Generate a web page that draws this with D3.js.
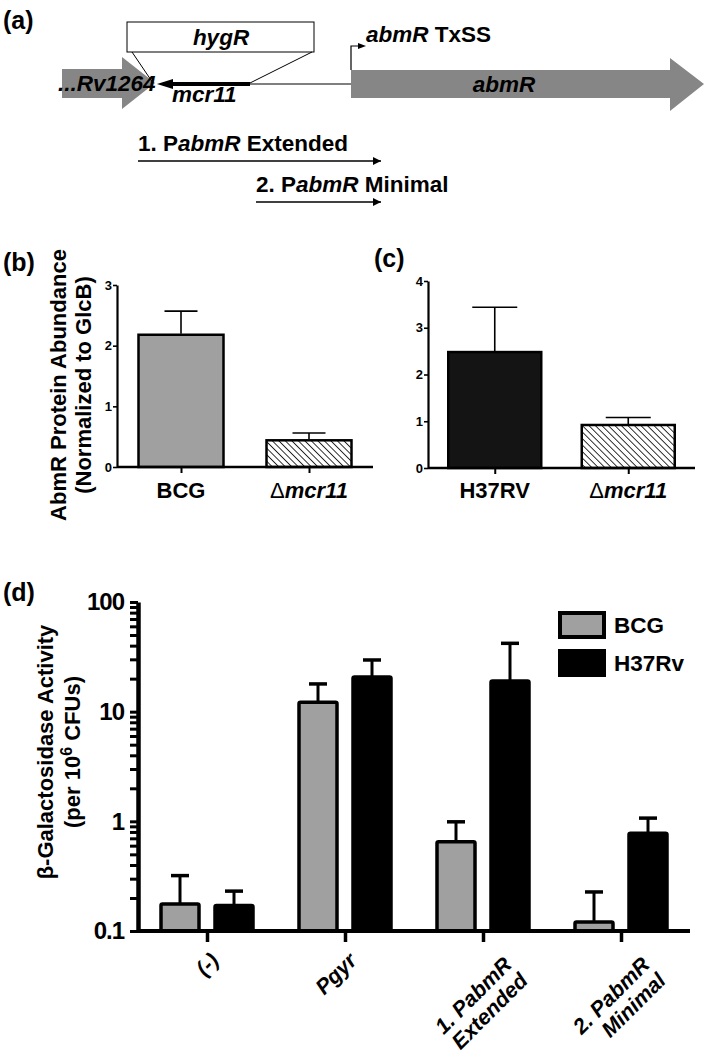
<!DOCTYPE html>
<html>
<head>
<meta charset="utf-8">
<script src="https://cdn.jsdelivr.net/npm/d3@7"></script>
<style>
  body { margin: 0; background: #fff; }
  svg { display: block; }
  text { font-family: "Liberation Sans", Arial, sans-serif; font-weight: bold; fill: #000; }
</style>
</head>
<body>
<svg id="fig" width="709" height="1058"></svg>
<script>
// panel (b) - AbmR protein in BCG
var bCats = ["BCG", "Δmcr11"];
var bVals = [2.18, 0.44];
var bErr = [0.39, 0.12];
var bTicks = [0, 1, 2, 3];

// panel (c) - AbmR protein in H37Rv
var cCats = ["H37RV", "Δmcr11"];
var cVals = [2.48, 0.92];
var cErr = [0.96, 0.16];
var cTicks = [0, 1, 2, 3, 4];

// panel (d) - beta-galactosidase, log scale
var dGroups = ["(-)", "Pgyr", "1. PabmR\nExtended", "2. PabmR\nMinimal"];
var dSeries = ["BCG", "H37Rv"];
var dBCG = [0.176, 12.2, 0.65, 0.121];
var dBCGerr = [0.144, 5.7, 0.34, 0.106];
var dH37 = [0.171, 20.7, 19, 0.78];
var dH37err = [0.06, 8.9, 23, 0.29];
var dTicks = [0.1, 1, 10, 100];

var svg = d3.select("#fig");
var defs = svg.append("defs");

// hatch for the mutant bars
var hatch = defs.append("pattern")
    .attr("id", "hatch")
    .attr("patternUnits", "userSpaceOnUse")
    .attr("width", 4.6).attr("height", 4.6)
    .attr("patternTransform", "rotate(-45)");
hatch.append("rect").attr("width", 4.6).attr("height", 4.6).attr("fill", "#fff");
hatch.append("line").attr("x1", 0).attr("y1", 0).attr("x2", 0).attr("y2", 4.6)
    .attr("stroke", "#000").attr("stroke-width", 1.6);

defs.append("marker")
    .attr("id", "arr")
    .attr("viewBox", "0 0 10 10")
    .attr("refX", 10).attr("refY", 5)
    .attr("markerWidth", 11).attr("markerHeight", 8)
    .attr("markerUnits", "userSpaceOnUse")
    .attr("orient", "auto")
    .append("path").attr("d", "M0,0L10,5L0,10Z").attr("fill", "#000");

// write a string, setting gene names in italics
function rich(sel, str) {
    var parts = str.split(/(abmR|mcr11|hygR|Rv1264)/);
    parts.forEach(function (p) {
        if (!p) return;
        var t = sel.append("tspan").text(p);
        if (/^(abmR|mcr11|hygR|Rv1264)$/.test(p)) t.attr("font-style", "italic");
    });
    return sel;
}

function panelLabel(txt, x, y) {
    svg.append("text").attr("x", x).attr("y", y).attr("font-size", 25).text(txt);
}

// ---------------- (a) gene map ----------------
panelLabel("(a)", 3, 29);
var ga = svg.append("g");
var grey = "#868686";
var fa = 22.5;

ga.append("polygon")
    .attr("points", "62,69 122,69 122,57 155,83 122,109 122,98 62,98")
    .attr("fill", grey);
ga.append("polygon")
    .attr("points", "351,70 670,70 670,58 704,84 670,111 670,98 351,98")
    .attr("fill", grey);

ga.append("rect").attr("x", 127).attr("y", 22).attr("width", 187).attr("height", 30)
    .attr("fill", "#fff").attr("stroke", "#000").attr("stroke-width", 1);
ga.append("line").attr("x1", 132).attr("y1", 52).attr("x2", 153).attr("y2", 83)
    .attr("stroke", "#000").attr("stroke-width", 1);
ga.append("line").attr("x1", 312).attr("y1", 52).attr("x2", 250).attr("y2", 83)
    .attr("stroke", "#000").attr("stroke-width", 1);

ga.append("line").attr("x1", 250).attr("y1", 84).attr("x2", 351).attr("y2", 84)
    .attr("stroke", "#000").attr("stroke-width", 1);
ga.append("line").attr("x1", 250).attr("y1", 84).attr("x2", 170).attr("y2", 84)
    .attr("stroke", "#000").attr("stroke-width", 4);
ga.append("polygon").attr("points", "157,84 173,79 173,89").attr("fill", "#000");

ga.append("path").attr("d", "M351,70V46H358").attr("fill", "none")
    .attr("stroke", "#000").attr("stroke-width", 1.2);
ga.append("polygon").attr("points", "358,43 366,46 358,49").attr("fill", "#000");

rich(ga.append("text").attr("x", 221).attr("y", 45).attr("text-anchor", "middle").attr("font-size", fa), "hygR");
ga.append("text").attr("x", 58).attr("y", 91).attr("font-size", fa).attr("font-style", "italic").text("...Rv1264");
rich(ga.append("text").attr("x", 172).attr("y", 102).attr("font-size", fa), "mcr11");
rich(ga.append("text").attr("x", 504).attr("y", 92).attr("text-anchor", "middle").attr("font-size", fa), "abmR");
rich(ga.append("text").attr("x", 366).attr("y", 42).attr("font-size", fa), "abmR TxSS");

rich(ga.append("text").attr("x", 138).attr("y", 151).attr("font-size", fa), "1. PabmR Extended");
ga.append("line").attr("x1", 138).attr("y1", 161).attr("x2", 381).attr("y2", 161)
    .attr("stroke", "#000").attr("stroke-width", 1.6).attr("marker-end", "url(#arr)");
rich(ga.append("text").attr("x", 256).attr("y", 192).attr("font-size", fa), "2. PabmR Minimal");
ga.append("line").attr("x1", 256).attr("y1", 202).attr("x2", 381).attr("y2", 202)
    .attr("stroke", "#000").attr("stroke-width", 1.6).attr("marker-end", "url(#arr)");

// ---------------- (b) and (c) bar panels ----------------
function barPanel(o) {
    var g = svg.append("g");
    var x = d3.scalePoint().domain(o.cats).range([o.left, o.right]).padding(0.5);
    var y = d3.scaleLinear().domain([0, d3.max(o.ticks)]).range([o.bottom, o.top]);

    g.selectAll(".bar").data(o.vals).enter().append("rect")
        .attr("x", function (d, i) { return x(o.cats[i]) - o.barW / 2; })
        .attr("y", function (d) { return y(d); })
        .attr("width", o.barW)
        .attr("height", function (d) { return y(0) - y(d); })
        .attr("fill", function (d, i) { return o.fills[i]; })
        .attr("stroke", "#000").attr("stroke-width", 2.5);

    var eb = g.selectAll(".err").data(o.vals).enter().append("g");
    eb.append("line")
        .attr("x1", function (d, i) { return x(o.cats[i]); })
        .attr("x2", function (d, i) { return x(o.cats[i]); })
        .attr("y1", function (d) { return y(d) - 1; })
        .attr("y2", function (d, i) { return y(d + o.errs[i]); })
        .attr("stroke", "#000").attr("stroke-width", 1.6);
    eb.append("line")
        .attr("x1", function (d, i) { return x(o.cats[i]) - o.capW / 2; })
        .attr("x2", function (d, i) { return x(o.cats[i]) + o.capW / 2; })
        .attr("y1", function (d, i) { return y(d + o.errs[i]); })
        .attr("y2", function (d, i) { return y(d + o.errs[i]); })
        .attr("stroke", "#000").attr("stroke-width", 1.6);

    var ya = g.append("g").attr("transform", "translate(" + o.left + ",0)")
        .call(d3.axisLeft(y).tickValues(o.ticks).tickFormat(d3.format("d"))
            .tickSize(4).tickSizeOuter(0).tickPadding(1));
    ya.select(".domain").attr("stroke-width", 2.2);
    ya.selectAll(".tick line").attr("stroke-width", 1.6);
    ya.selectAll(".tick text").attr("font-size", 13).attr("font-family", "Liberation Sans, Arial, sans-serif").attr("font-weight", "bold");

    var xa = g.append("g").attr("transform", "translate(0," + o.bottom + ")")
        .call(d3.axisBottom(x).tickSize(6).tickSizeOuter(0).tickFormat(""));
    xa.select(".domain").attr("stroke-width", 2.5)
        .attr("d", "M" + o.left + ",0H" + o.axisEnd);
    xa.selectAll(".tick line").attr("stroke-width", 2);

    o.cats.forEach(function (c) {
        var t = g.append("text").attr("x", x(c)).attr("y", 498)
            .attr("text-anchor", "middle").attr("font-size", 22);
        if (c.charAt(0) == "Δ") {
            t.append("tspan").attr("font-weight", "normal").text("Δ");
            t.append("tspan").attr("font-style", "italic").text(c.slice(1));
        } else {
            t.text(c);
        }
    });
    return g;
}

panelLabel("(b)", 3, 271);
barPanel({
    cats: bCats, vals: bVals, errs: bErr, ticks: bTicks,
    left: 117, right: 373, axisEnd: 373, top: 285, bottom: 467,
    barW: 85, capW: 33, fills: ["#a0a0a0", "url(#hatch)"]
});
var yl = svg.append("text").attr("transform", "translate(66,385) rotate(-90)")
    .attr("text-anchor", "middle").attr("font-size", 22);
yl.append("tspan").attr("x", 0).attr("dy", 0).text("AbmR Protein Abundance");
yl.append("tspan").attr("x", 0).attr("dy", 25).text("(Normalized to GlcB)");

panelLabel("(c)", 374, 267);
barPanel({
    cats: cCats, vals: cVals, errs: cErr, ticks: cTicks,
    left: 428, right: 695, axisEnd: 695, top: 281, bottom: 468,
    barW: 93, capW: 45, fills: ["#141414", "url(#hatch)"]
});

// ---------------- (d) log-scale grouped bars ----------------
panelLabel("(d)", 3, 601);
var gd = svg.append("g");
var dLeft = 138, dRight = 690, dTop = 602, dBottom = 931;
var x0 = d3.scalePoint().domain(dGroups).range([dLeft, dRight]).padding(0.5);
var x1 = d3.scalePoint().domain(dSeries).range([-27, 27]);
var yd = d3.scaleLog().domain([0.1, 100]).range([dBottom, dTop]);
var dColor = { "BCG": "#a0a0a0", "H37Rv": "#000" };
var dBarW = 38;

var rows = [];
dGroups.forEach(function (g, i) {
    rows.push({ grp: g, ser: "BCG", v: dBCG[i], e: dBCGerr[i] });
    rows.push({ grp: g, ser: "H37Rv", v: dH37[i], e: dH37err[i] });
});

gd.selectAll(".bar").data(rows).enter().append("rect")
    .attr("x", function (d) { return x0(d.grp) + x1(d.ser) - dBarW / 2; })
    .attr("y", function (d) { return yd(d.v); })
    .attr("width", dBarW)
    .attr("height", function (d) { return yd(0.1) - yd(d.v); })
    .attr("rx", 1.5)
    .attr("fill", function (d) { return dColor[d.ser]; })
    .attr("stroke", "#000").attr("stroke-width", 3.5);

var de = gd.selectAll(".err").data(rows).enter().append("g");
de.append("line")
    .attr("x1", function (d) { return x0(d.grp) + x1(d.ser); })
    .attr("x2", function (d) { return x0(d.grp) + x1(d.ser); })
    .attr("y1", function (d) { return yd(d.v) - 1; })
    .attr("y2", function (d) { return yd(d.v + d.e); })
    .attr("stroke", "#000").attr("stroke-width", 3);
de.append("line")
    .attr("x1", function (d) { return x0(d.grp) + x1(d.ser) - 9; })
    .attr("x2", function (d) { return x0(d.grp) + x1(d.ser) + 9; })
    .attr("y1", function (d) { return yd(d.v + d.e); })
    .attr("y2", function (d) { return yd(d.v + d.e); })
    .attr("stroke", "#000").attr("stroke-width", 3.5);

// minor ticks 2..9 of every decade
var minor = [];
[0.1, 1, 10].forEach(function (dec) {
    for (var k = 1; k <= 9; k++) minor.push(k * dec);
});
minor.push(100);
var yda = gd.append("g").attr("transform", "translate(" + dLeft + ",0)")
    .call(d3.axisLeft(yd).tickValues(minor).tickSize(8).tickSizeOuter(0).tickPadding(6)
        .tickFormat(function (d) { return dTicks.indexOf(d) >= 0 ? d3.format("~g")(d) : ""; }));
yda.select(".domain").attr("stroke-width", 4.5);
yda.selectAll(".tick line").attr("stroke-width", 3);
yda.selectAll(".tick text").attr("font-size", 24).attr("font-family", "Liberation Sans, Arial, sans-serif")
    .attr("font-weight", "bold").attr("letter-spacing", -1);

var xda = gd.append("g").attr("transform", "translate(0," + dBottom + ")")
    .call(d3.axisBottom(x0).tickSize(11).tickSizeOuter(0).tickFormat(""));
xda.select(".domain").attr("stroke-width", 4).attr("d", "M" + dLeft + ",0H" + dRight);
xda.selectAll(".tick line").attr("stroke-width", 3.5);

dGroups.forEach(function (g) {
    var lines = g.split("\n");
    var ax = x0(g) + (lines.length > 1 ? 30 : 13);
    var ay = lines.length > 1 ? 966 : 962;
    var t = gd.append("text")
        .attr("transform", "translate(" + ax + "," + ay + ") rotate(-45)")
        .attr("text-anchor", "end").attr("font-size", 21.5).attr("font-style", "italic");
    lines.forEach(function (l, i) {
        t.append("tspan").attr("x", 0).attr("dy", i == 0 ? 0 : "1.05em").text(l);
    });
});

// legend
dSeries.forEach(function (s, i) {
    gd.append("rect").attr("x", 560).attr("y", 613 + i * 38).attr("width", 44).attr("height", 24)
        .attr("fill", dColor[s]).attr("stroke", "#000").attr("stroke-width", 4);
    gd.append("text").attr("x", 614).attr("y", 633 + i * 38).attr("font-size", 22.5).text(s);
});

var yl2 = svg.append("text").attr("transform", "translate(53,752) rotate(-90)")
    .attr("text-anchor", "middle").attr("font-size", 22);
yl2.append("tspan").attr("x", 0).attr("dy", 0).text("β-Galactosidase Activity");
yl2.append("tspan").attr("x", 0).attr("dy", 27).text("(per 10");
yl2.append("tspan").attr("dy", -8).attr("font-size", 16).text("6");
yl2.append("tspan").attr("dy", 8).text(" CFUs)");
</script>
</body>
</html>
